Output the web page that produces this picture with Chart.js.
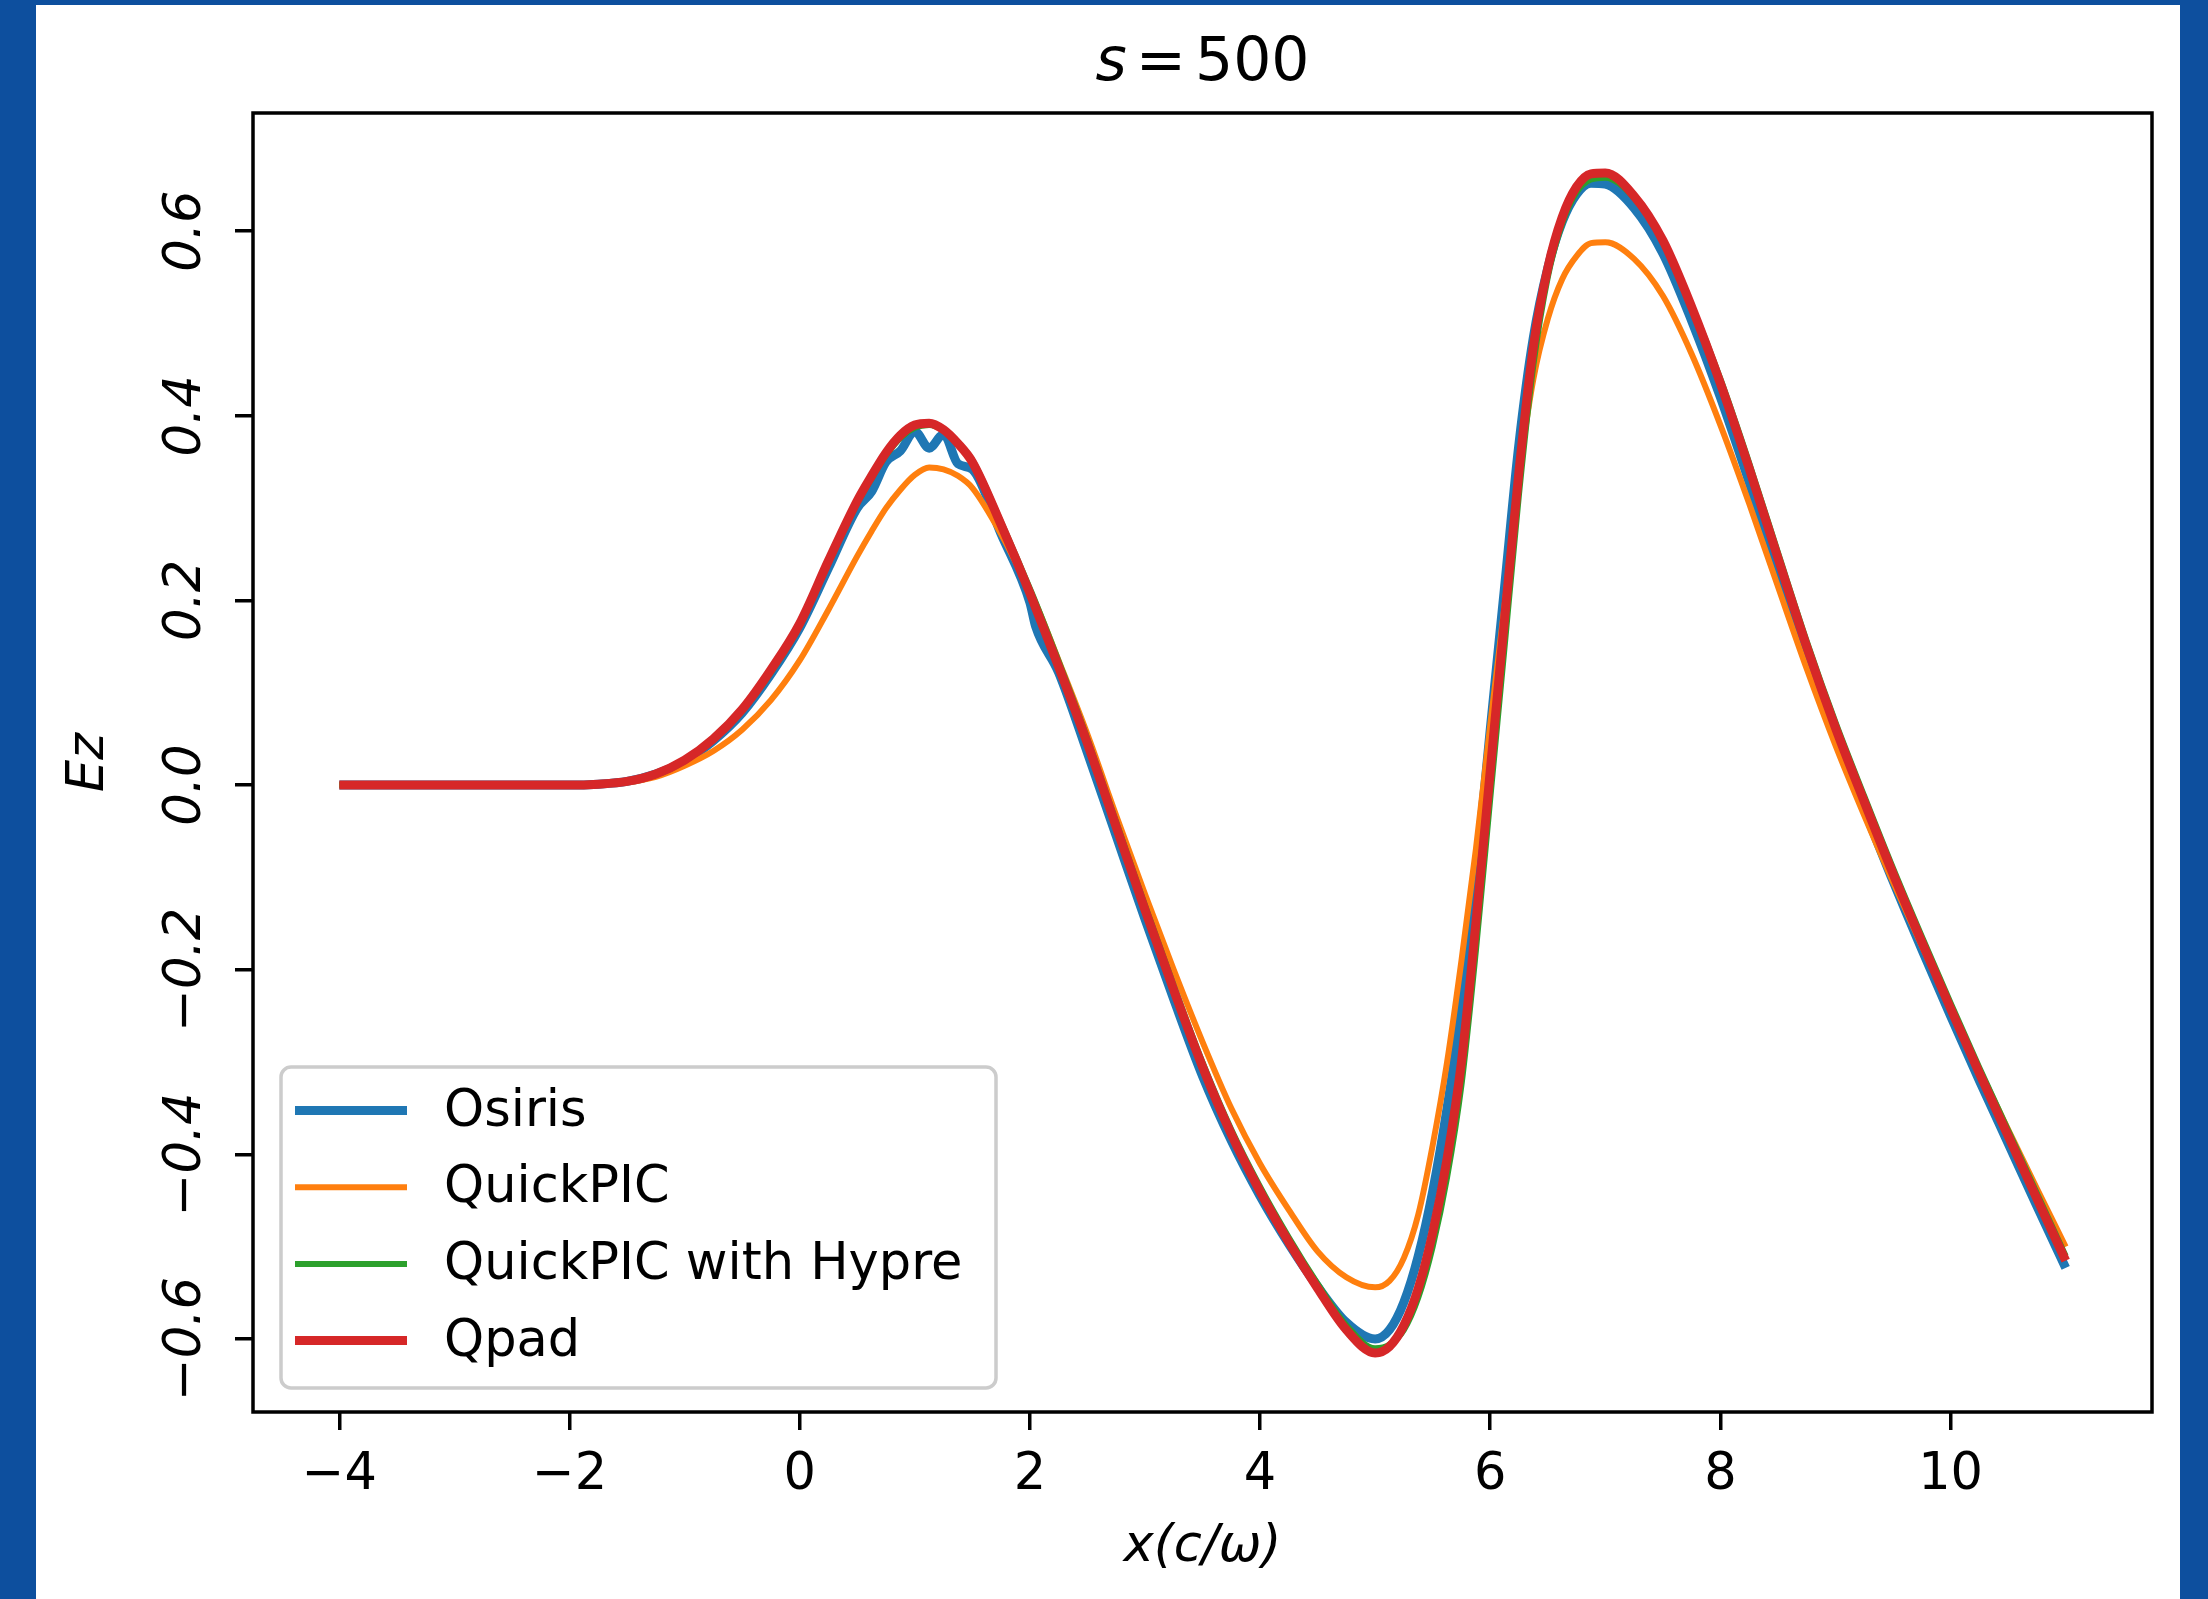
<!DOCTYPE html>
<html>
<head>
<meta charset="utf-8">
<title>Ez at s = 500</title>
<script src="https://cdn.jsdelivr.net/npm/chart.js@4.4.0/dist/chart.umd.min.js"></script>
<style>
  html, body { margin: 0; padding: 0; background: #0d4f9e; }
  body { width: 2208px; height: 1599px; position: relative; overflow: hidden; }
  #panel { position: absolute; left: 36px; top: 5px; width: 2144px; height: 1594px; background: #fff; }
</style>
</head>
<body>
<div id="panel"><canvas id="myChart" width="2144" height="1594"></canvas></div>
<script>
// x positions (c/omega), shared by all four runs
const xs = [-4, -3.5, -3, -2.5, -2, -1.75, -1.5, -1.25, -1, -0.75, -0.5, -0.25, 0, 0.25, 0.5,
  0.625, 0.75, 0.875, 1, 1.125, 1.25, 1.375, 1.5,
  1.75, 2, 2.05, 2.25, 2.5, 2.75, 3, 3.25, 3.5, 3.75, 4, 4.25, 4.5, 4.75, 5,
  5.125, 5.25, 5.375, 5.5, 5.625, 5.75, 5.875, 6, 6.125, 6.25, 6.375, 6.5, 6.625, 6.75, 6.875, 7,
  7.25, 7.5, 7.75, 8, 8.25, 8.5, 8.75, 9, 9.25, 9.5, 9.75, 10, 10.25, 10.5, 10.75, 11];

const osiris = [0, 0, 0, 0, 0, 0.001, 0.004, 0.012, 0.026, 0.048, 0.078, 0.12, 0.17, 0.235, 0.3,
  0.318, 0.35, 0.362, 0.383, 0.365, 0.38, 0.348, 0.342,
  0.272, 0.198, 0.172, 0.122, 0.035, -0.055, -0.145, -0.232, -0.315, -0.385, -0.445, -0.497, -0.543, -0.582, -0.6,
  -0.59, -0.56, -0.51, -0.44, -0.35, -0.24, -0.1, 0.06, 0.215, 0.37, 0.485, 0.56, 0.61, 0.64, 0.652, 0.651,
  0.625, 0.576, 0.503, 0.42, 0.328, 0.232, 0.138, 0.053, -0.026, -0.104, -0.178, -0.25, -0.32, -0.388, -0.456, -0.523];

const quickpic = [0, 0, 0, 0, 0, 0.001, 0.003, 0.009, 0.021, 0.037, 0.06, 0.092, 0.135, 0.19, 0.248,
  0.275, 0.3, 0.32, 0.336, 0.344, 0.342, 0.335, 0.322,
  0.272, 0.21, 0.197, 0.135, 0.055, -0.033, -0.118, -0.2, -0.278, -0.35, -0.41, -0.46, -0.505, -0.533, -0.544,
  -0.537, -0.512, -0.465, -0.39, -0.3, -0.19, -0.07, 0.065, 0.195, 0.335, 0.44, 0.505, 0.548, 0.573, 0.587, 0.588,
  0.57, 0.53, 0.467, 0.39, 0.305, 0.215, 0.126, 0.043, -0.033, -0.105, -0.174, -0.242, -0.308, -0.373, -0.437, -0.5];

const hypre = [0, 0, 0, 0, 0, 0.001, 0.004, 0.011, 0.026, 0.049, 0.08, 0.122, 0.172, 0.24, 0.305,
  0.332, 0.357, 0.376, 0.387, 0.39, 0.384, 0.371, 0.352,
  0.285, 0.213, 0.198, 0.134, 0.05, -0.04, -0.13, -0.217, -0.3, -0.373, -0.435, -0.49, -0.54, -0.585, -0.61,
  -0.606, -0.59, -0.555, -0.5, -0.425, -0.325, -0.18, -0.015, 0.15, 0.315, 0.455, 0.55, 0.608, 0.642, 0.656, 0.658,
  0.636, 0.59, 0.52, 0.44, 0.349, 0.252, 0.156, 0.068, -0.012, -0.09, -0.164, -0.236, -0.306, -0.374, -0.442, -0.51];

const qpad = [0, 0, 0, 0, 0, 0.001, 0.004, 0.012, 0.027, 0.05, 0.082, 0.125, 0.175, 0.243, 0.308,
  0.335, 0.36, 0.379, 0.39, 0.392, 0.385, 0.37, 0.35,
  0.282, 0.208, 0.192, 0.128, 0.045, -0.045, -0.135, -0.222, -0.305, -0.378, -0.44, -0.495, -0.545, -0.59, -0.615,
  -0.608, -0.585, -0.545, -0.485, -0.405, -0.3, -0.15, 0.015, 0.18, 0.34, 0.475, 0.56, 0.615, 0.648, 0.662, 0.663,
  0.638, 0.59, 0.518, 0.435, 0.343, 0.246, 0.15, 0.062, -0.018, -0.096, -0.17, -0.242, -0.312, -0.38, -0.448, -0.515];

const seriesNames = ["Osiris", "QuickPIC", "QuickPIC with Hypre", "Qpad"];
const xTicks = [-4, -2, 0, 2, 4, 6, 8, 10];
const yTicks = [-0.6, -0.4, -0.2, 0.0, 0.2, 0.4, 0.6];

const FONT = '"DejaVu Sans", "Liberation Sans", sans-serif';
const colors = ["#1f77b4", "#ff7f0e", "#2ca02c", "#d62728"];
const widths = [9, 6, 6, 9];

function fmt(v, digits) {
    const s = Math.abs(v).toFixed(digits);
    return (v < -1e-9 ? "\u2212" : "") + s;
}

const allSeries = [osiris, quickpic, hypre, qpad];
const datasets = allSeries.map((ys, i) => ({
    label: seriesNames[i],
    data: xs.map((x, j) => ({ x: x, y: ys[j] })),
    borderColor: colors[i],
    backgroundColor: colors[i],
    borderWidth: widths[i],
    pointRadius: 0,
    fill: false,
    cubicInterpolationMode: "monotone",
    order: 4 - i
}));

// title, frame and legend are drawn on top like matplotlib does
const framePlugin = {
    id: "frame",
    afterDatasetsDraw(chart) {
        const ctx = chart.ctx;
        const a = chart.chartArea;
        ctx.save();

        // frame
        ctx.strokeStyle = "#000";
        ctx.lineWidth = 3.5;
        ctx.strokeRect(a.left, a.top, a.right - a.left, a.bottom - a.top);

        // title  s = 500
        ctx.fillStyle = "#000";
        ctx.textBaseline = "middle";
        ctx.textAlign = "left";
        const italic = "italic 60px " + FONT;
        const normal = "60px " + FONT;
        const gap = 9;
        ctx.font = italic;
        const w1 = ctx.measureText("s").width;
        ctx.font = normal;
        const w2 = ctx.measureText("=").width;
        const w3 = ctx.measureText("500").width;
        const cx = (a.left + a.right) / 2;
        let tx = cx - (w1 + w2 + w3 + 2 * gap) / 2;
        const ty = 59;
        ctx.font = italic;
        ctx.fillText("s", tx, ty);
        ctx.font = normal;
        ctx.fillText("=", tx + w1 + gap, ty);
        ctx.fillText("500", tx + w1 + w2 + 2 * gap, ty);

        // legend
        const bx = 245, by = 1062, bw = 715, bh = 321;
        ctx.beginPath();
        ctx.roundRect(bx, by, bw, bh, 10);
        ctx.fillStyle = "rgba(255,255,255,0.8)";
        ctx.fill();
        ctx.strokeStyle = "#cccccc";
        ctx.lineWidth = 3.5;
        ctx.stroke();

        ctx.font = "51px " + FONT;
        ctx.textBaseline = "middle";
        seriesNames.forEach((name, i) => {
            const ry = 1105.5 + i * 76.7;
            ctx.beginPath();
            ctx.moveTo(259, ry);
            ctx.lineTo(371, ry);
            ctx.strokeStyle = colors[i];
            ctx.lineWidth = widths[i];
            ctx.stroke();
            ctx.fillStyle = "#000";
            ctx.fillText(name, 408, ry + 2);
        });
        ctx.restore();
    }
};

const ctx = document.getElementById("myChart").getContext("2d");
const chartInstance = new Chart(ctx, {
    type: "line",
    data: { datasets: datasets },
    options: {
        responsive: false,
        animation: false,
        devicePixelRatio: 1,
        layout: { padding: { top: 108, right: 28, left: 0, bottom: 0 } },
        plugins: {
            legend: { display: false },
            tooltip: { enabled: false },
            title: { display: false }
        },
        scales: {
            x: {
                type: "linear",
                min: -4.75,
                max: 11.75,
                afterBuildTicks: s => { s.ticks = xTicks.map(v => ({ value: v })); },
                afterFit: s => { s.height = 187; },
                border: { display: false },
                grid: {
                    display: true, drawOnChartArea: false, drawTicks: true,
                    tickLength: 18, tickWidth: 3.5, tickColor: "#000", color: "#000", lineWidth: 3.5
                },
                ticks: {
                    color: "#000", font: { family: FONT, size: 51 }, padding: 15,
                    autoSkip: false, minRotation: 0, maxRotation: 0,
                    callback: v => fmt(v, 0)
                },
                title: {
                    display: true, text: "x(c/\u03c9)", color: "#000",
                    font: { family: FONT, size: 51, style: "italic" },
                    padding: { top: 0, bottom: 21 }
                }
            },
            y: {
                type: "linear",
                min: -0.679,
                max: 0.728,
                afterBuildTicks: s => { s.ticks = yTicks.map(v => ({ value: v })); },
                afterFit: s => { s.width = 217; },
                border: { display: false },
                grid: {
                    display: true, drawOnChartArea: false, drawTicks: true,
                    tickLength: 18, tickWidth: 3.5, tickColor: "#000", color: "#000", lineWidth: 3.5
                },
                ticks: {
                    color: "#000", font: { family: FONT, size: 51, style: "italic" }, padding: -14,
                    autoSkip: false, minRotation: 90, maxRotation: 90, crossAlign: "center",
                    callback: v => fmt(v, 1)
                },
                title: {
                    display: true, text: "Ez", color: "#000",
                    font: { family: FONT, size: 51, style: "italic" },
                    padding: { top: 23, bottom: 0 }
                }
            }
        }
    },
    plugins: [framePlugin]
});
</script>
</body>
</html>
